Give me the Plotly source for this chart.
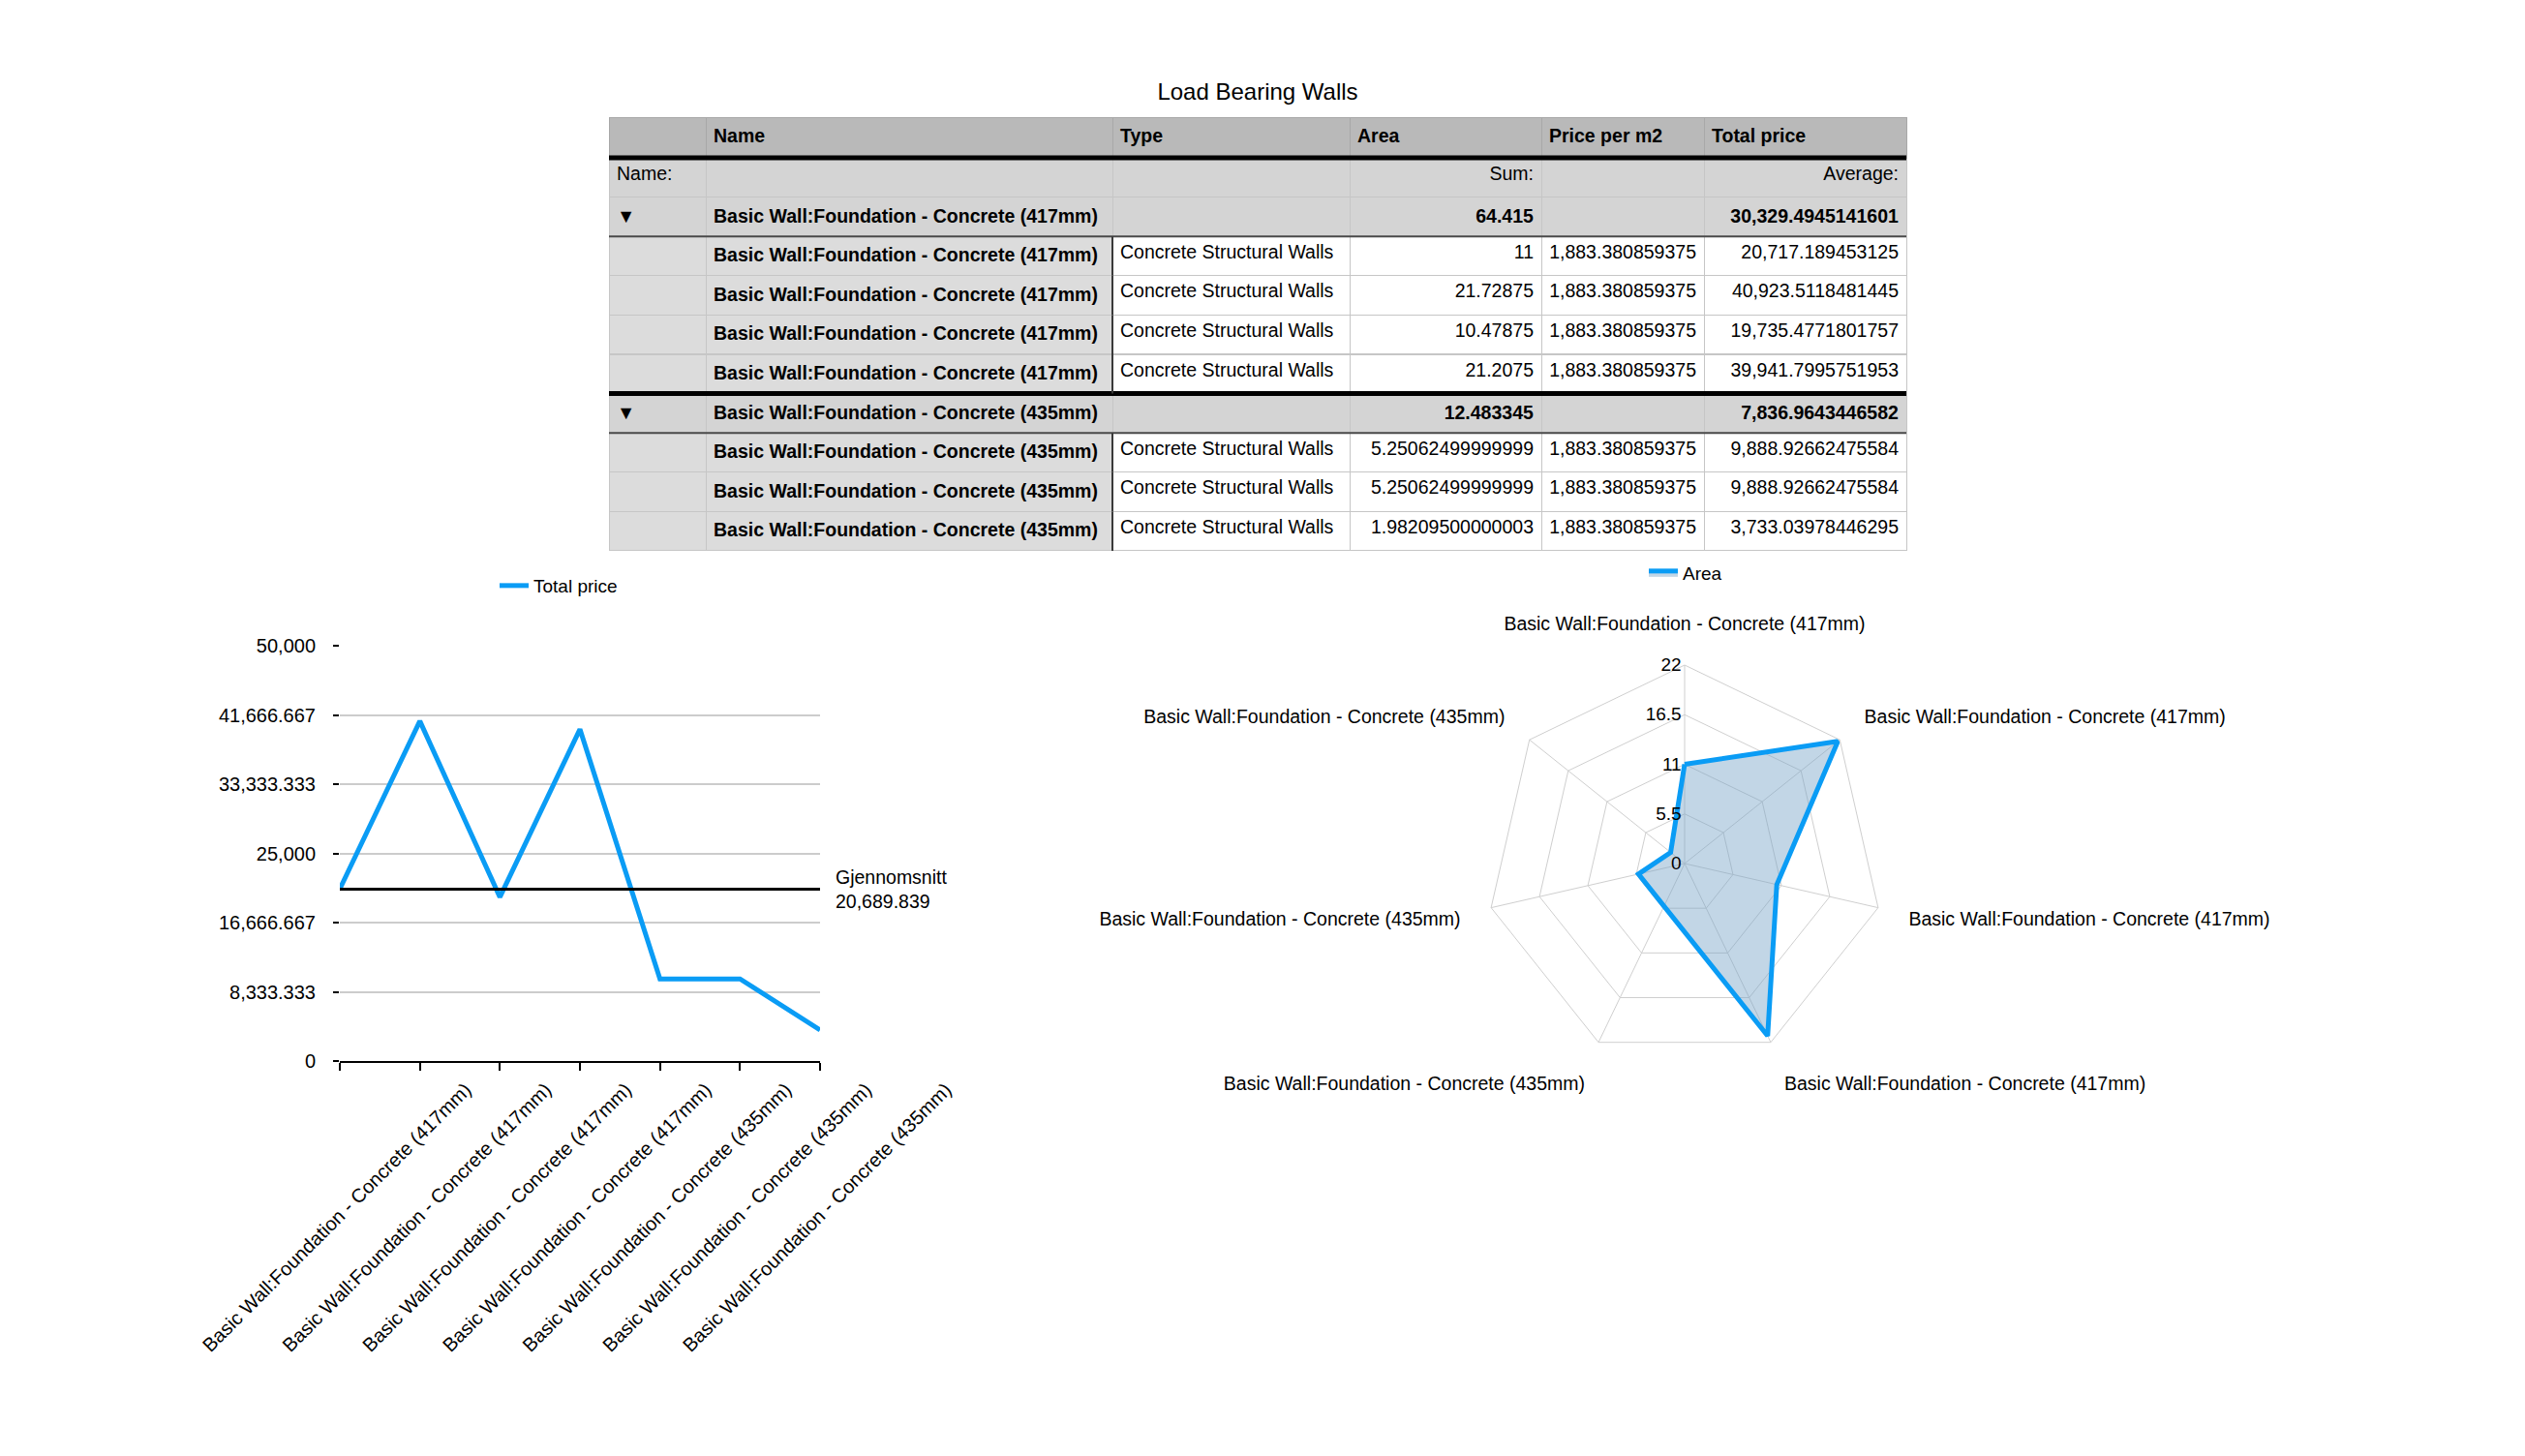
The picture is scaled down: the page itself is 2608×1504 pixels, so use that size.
import plotly.graph_objects as go

W, H = 2608, 1504

# ---------------- data ----------------
title_text = "Load Bearing Walls"
header_labels = ["", "Name", "Type", "Area", "Price per m2", "Total price"]

group_names = ["Basic Wall:Foundation - Concrete (417mm)",
               "Basic Wall:Foundation - Concrete (435mm)"]
group_area_sum = ["64.415", "12.483345"]
group_total_avg = ["30,329.4945141601", "7,836.9643446582"]

item_group = [0, 0, 0, 0, 1, 1, 1]
item_types = ["Concrete Structural Walls"] * 7
item_area_text = ["11", "21.72875", "10.47875", "21.2075",
                  "5.25062499999999", "5.25062499999999", "1.98209500000003"]
item_price_text = ["1,883.380859375"] * 7
item_total_text = ["20,717.189453125", "40,923.5118481445", "19,735.4771801757",
                   "39,941.7995751953", "9,888.92662475584", "9,888.92662475584",
                   "3,733.03978446295"]

area = [11, 21.72875, 10.47875, 21.2075, 5.25062499999999, 5.25062499999999, 1.98209500000003]
total_price = [20717.189453125, 40923.5118481445, 19735.4771801757, 39941.7995751953,
               9888.92662475584, 9888.92662475584, 3733.03978446295]

y_tick_vals = [0, 8333.333, 16666.667, 25000, 33333.333, 41666.667, 50000]
y_tick_labels = ["0", "8,333.333", "16,666.667", "25,000", "33,333.333", "41,666.667", "50,000"]
radial_ticks = [0, 5.5, 11, 16.5, 22]
radial_tick_labels = ["0", "5.5", "11", "16.5", "22"]

item_names = [group_names[g] for g in item_group]

# ---------------- styling ----------------
FONT = "Liberation Sans, Arial, Helvetica, sans-serif"
BLUE = "#0a9cf5"
HDR = "#b9b9b9"
GRP = "#d4d4d4"
ITM = "#dcdcdc"
WHITE = "#ffffff"

def px_x(p):
    return p / W

def px_y(p):
    return 1 - p / H

fig = go.Figure()

# ---------------- table ----------------
TRI = "<b>\u25BC</b>"
rows = []  # each row: (cells list, fills list)
rows.append((["Name:", "", "", "Sum:", "", "Average:"], [GRP] * 6))
for g, gname in enumerate(group_names):
    rows.append(([TRI, "<b>" + gname + "</b>", "", "<b>" + group_area_sum[g] + "</b>",
                  "", "<b>" + group_total_avg[g] + "</b>"], [GRP] * 6))
    for i, ig in enumerate(item_group):
        if ig == g:
            rows.append((["", "<b>" + item_names[i] + "</b>", item_types[i], item_area_text[i],
                          item_price_text[i], item_total_text[i]],
                         [ITM, ITM, WHITE, WHITE, WHITE, WHITE]))

ncol = len(header_labels)
col_values = [[r[0][c] for r in rows] for c in range(ncol)]
col_fills = [[r[1][c] for r in rows] for c in range(ncol)]

tbl_left, tbl_right, tbl_top = 629, 1969, 121
hdr_h, cell_h = 42, 40.6
col_w = [100, 420, 245, 198, 168, 209]
tbl_bottom = tbl_top + hdr_h + cell_h * len(rows) + 2

fig.add_trace(go.Table(
    domain=dict(x=[px_x(tbl_left), px_x(tbl_right)], y=[px_y(tbl_bottom), px_y(tbl_top)]),
    columnwidth=col_w,
    header=dict(values=["<b>" + h + "</b>" if h else "" for h in header_labels],
                fill_color=HDR, align="left", height=hdr_h,
                line=dict(color="#a8a8a8", width=1),
                font=dict(family=FONT, size=19.5, color="black")),
    cells=dict(values=col_values, fill_color=col_fills,
               align=["left", "left", "left", "right", "right", "right"],
               height=cell_h, line=dict(color="#c6c6c6", width=1),
               font=dict(family=FONT, size=19.5, color="black")),
))

# table accent lines (thick separators)
def row_top(k):
    return tbl_top + hdr_h + cell_h * k

shapes = []
sep_specs = [(row_top(0), 5, "black")]
for k, r in enumerate(rows):
    if r[0][0] == TRI:
        if k > 1:
            sep_specs.append((row_top(k), 5, "black"))
        sep_specs.append((row_top(k + 1), 2, "#4a4a4a"))
for yy, wd, colr in sep_specs:
    shapes.append(dict(type="line", xref="paper", yref="paper",
                       x0=px_x(tbl_left), x1=px_x(tbl_right), y0=px_y(yy), y1=px_y(yy),
                       line=dict(color=colr, width=wd)))
col_edge = tbl_left + col_w[0] + col_w[1]
for k, r in enumerate(rows):
    if r[1][2] == WHITE:
        shapes.append(dict(type="line", xref="paper", yref="paper",
                           x0=px_x(col_edge), x1=px_x(col_edge),
                           y0=px_y(row_top(k)), y1=px_y(row_top(k + 1)),
                           line=dict(color="#3a3a3a", width=2)))

# ---------------- line chart ----------------
idx = list(range(len(total_price)))
fig.add_trace(go.Scatter(
    x=idx, y=total_price, mode="lines", name="Total price", showlegend=True,
    line=dict(color=BLUE, width=5), legend="legend", xaxis="x", yaxis="y",
))
avg = sum(total_price) / len(total_price)
shapes.append(dict(type="line", xref="x domain", yref="y", x0=0, x1=1, y0=avg, y1=avg,
                   line=dict(color="black", width=3)))

# ---------------- radar ----------------
radar_ids = ["w%d" % i for i in range(len(area))]
fig.add_trace(go.Scatterpolar(
    r=area + [area[0]], theta=radar_ids + [radar_ids[0]], mode="lines", name="Area",
    showlegend=True, fill="toself", fillcolor="rgba(120,165,200,0.45)",
    line=dict(color=BLUE, width=5), legend="legend2", subplot="polar",
))

fig.update_layout(
    template="none",
    width=W, height=H, autosize=False,
    margin=dict(l=0, r=0, t=0, b=0, pad=0, autoexpand=False),
    paper_bgcolor="white", plot_bgcolor="white",
    showlegend=True,
    font=dict(family=FONT, size=19, color="black"),
    title=dict(text=title_text, x=px_x(1299), y=px_y(95), xanchor="center", yanchor="middle",
               font=dict(family=FONT, size=24, color="black")),
    shapes=shapes,
    xaxis=dict(domain=[px_x(351), px_x(847)], range=[0, 6], showgrid=False, zeroline=False,
               automargin=False,
               showline=True, linecolor="black", linewidth=2,
               ticks="outside", ticklen=8, tickwidth=2, tickcolor="black",
               tickmode="array", tickvals=idx, ticktext=item_names,
               tickangle=-45, ticklabelshift=130, tickfont=dict(size=20)),
    yaxis=dict(domain=[px_y(1096), px_y(667)], range=[0, 50000], zeroline=False,
               automargin=False,
               showgrid=True, gridcolor="#cccccc", gridwidth=1.5, showline=False,
               ticks="outside", ticklen=6, tickwidth=2, tickcolor="black",
               tickmode="array", tickvals=y_tick_vals, ticktext=y_tick_labels,
               ticklabelstandoff=14, tickfont=dict(size=20)),
    polar=dict(
        domain=dict(x=[px_x(1535), px_x(1945)], y=[px_y(1097), px_y(687)]),
        bgcolor="white", gridshape="linear",
        radialaxis=dict(range=[0, 22], tickmode="array", tickvals=radial_ticks,
                        ticktext=radial_tick_labels, angle=90, side="counterclockwise",
                        tickangle=90, showline=False, gridcolor="#cfcfcf", gridwidth=1,
                        ticks="", tickfont=dict(size=19)),
        angularaxis=dict(type="category", direction="clockwise", rotation=90,
                         tickmode="array", tickvals=radar_ids, ticktext=item_names,
                         showline=True, linecolor="#cfcfcf", linewidth=1,
                         gridcolor="#cfcfcf", gridwidth=1,
                         ticks="outside", ticklen=28, tickcolor="rgba(0,0,0,0)",
                         tickfont=dict(size=19.5)),
    ),
    legend=dict(x=px_x(511), y=px_y(605), xanchor="left", yanchor="middle",
                orientation="h", bgcolor="rgba(0,0,0,0)", font=dict(size=19)),
    legend2=dict(x=px_x(1698), y=px_y(592), xanchor="left", yanchor="middle",
                 orientation="h", bgcolor="rgba(0,0,0,0)", font=dict(size=19)),
    annotations=[dict(xref="x domain", yref="y", x=1, y=avg, xanchor="left", yanchor="middle",
                      xshift=14, align="left", showarrow=False,
                      text="Gjennomsnitt<br>" + f"{avg:,.3f}", font=dict(size=19.5))],
)

fig.write_html("out.html")
